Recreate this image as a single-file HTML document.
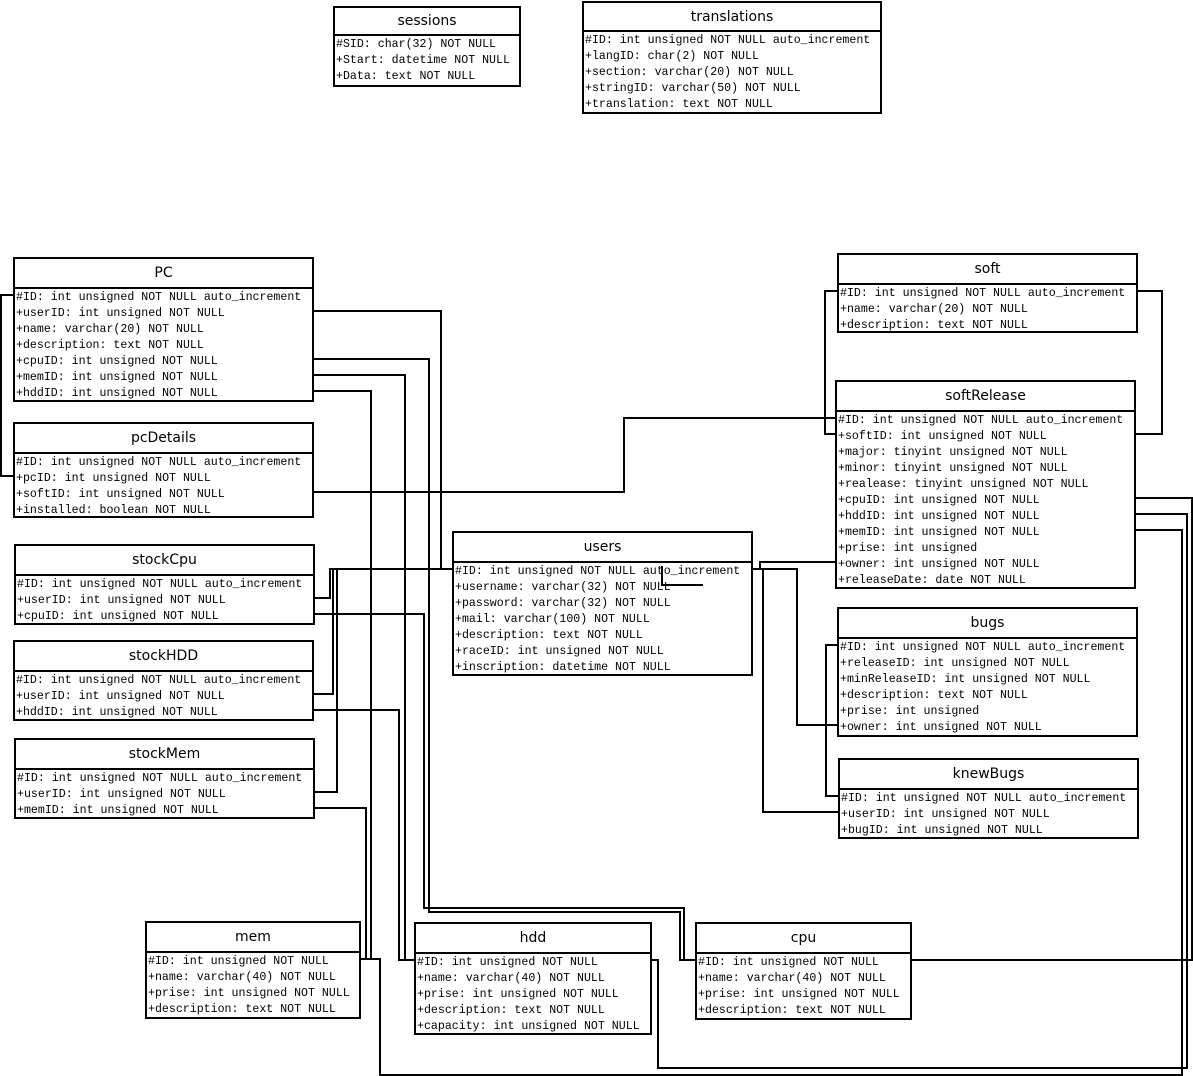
<!DOCTYPE html>
<html><head><meta charset="utf-8"><style>
body{margin:0;width:1193px;height:1076px;background:#fff;position:relative;overflow:hidden}
.t{position:absolute;border:2px solid #000;background:#fff;box-sizing:border-box}
.t .h{border-bottom:2px solid #000;font:14px "DejaVu Sans",sans-serif;text-align:center;box-sizing:border-box}
.t .r{font:11.6px "Liberation Mono",monospace;line-height:16px;padding-left:1px;white-space:pre;padding-top:1px}
svg{position:absolute;left:0;top:0}
</style></head><body>

<div class="t" style="left:333px;top:6px;width:188px;height:81px"><div class="h" style="height:28px;line-height:26px">sessions</div><div class="r">#SID: char(32) NOT NULL
+Start: datetime NOT NULL
+Data: text NOT NULL</div></div>

<div class="t" style="left:582px;top:1px;width:300px;height:113px"><div class="h" style="height:29px;line-height:28px">translations</div><div class="r">#ID: int unsigned NOT NULL auto_increment
+langID: char(2) NOT NULL
+section: varchar(20) NOT NULL
+stringID: varchar(50) NOT NULL
+translation: text NOT NULL</div></div>

<div class="t" style="left:13px;top:257px;width:301px;height:145px"><div class="h" style="height:30px;line-height:28px">PC</div><div class="r">#ID: int unsigned NOT NULL auto_increment
+userID: int unsigned NOT NULL
+name: varchar(20) NOT NULL
+description: text NOT NULL
+cpuID: int unsigned NOT NULL
+memID: int unsigned NOT NULL
+hddID: int unsigned NOT NULL</div></div>

<div class="t" style="left:13px;top:422px;width:301px;height:96px"><div class="h" style="height:30px;line-height:28px">pcDetails</div><div class="r">#ID: int unsigned NOT NULL auto_increment
+pcID: int unsigned NOT NULL
+softID: int unsigned NOT NULL
+installed: boolean NOT NULL</div></div>

<div class="t" style="left:14px;top:544px;width:301px;height:81px"><div class="h" style="height:30px;line-height:28px">stockCpu</div><div class="r">#ID: int unsigned NOT NULL auto_increment
+userID: int unsigned NOT NULL
+cpuID: int unsigned NOT NULL</div></div>

<div class="t" style="left:13px;top:640px;width:301px;height:81px"><div class="h" style="height:30px;line-height:28px">stockHDD</div><div class="r">#ID: int unsigned NOT NULL auto_increment
+userID: int unsigned NOT NULL
+hddID: int unsigned NOT NULL</div></div>

<div class="t" style="left:14px;top:738px;width:301px;height:81px"><div class="h" style="height:30px;line-height:28px">stockMem</div><div class="r">#ID: int unsigned NOT NULL auto_increment
+userID: int unsigned NOT NULL
+memID: int unsigned NOT NULL</div></div>

<div class="t" style="left:452px;top:531px;width:301px;height:145px"><div class="h" style="height:30px;line-height:28px">users</div><div class="r">#ID: int unsigned NOT NULL auto_increment
+username: varchar(32) NOT NULL
+password: varchar(32) NOT NULL
+mail: varchar(100) NOT NULL
+description: text NOT NULL
+raceID: int unsigned NOT NULL
+inscription: datetime NOT NULL</div></div>

<div class="t" style="left:837px;top:253px;width:301px;height:80px"><div class="h" style="height:30px;line-height:28px">soft</div><div class="r">#ID: int unsigned NOT NULL auto_increment
+name: varchar(20) NOT NULL
+description: text NOT NULL</div></div>

<div class="t" style="left:835px;top:380px;width:301px;height:209px"><div class="h" style="height:30px;line-height:28px">softRelease</div><div class="r">#ID: int unsigned NOT NULL auto_increment
+softID: int unsigned NOT NULL
+major: tinyint unsigned NOT NULL
+minor: tinyint unsigned NOT NULL
+realease: tinyint unsigned NOT NULL
+cpuID: int unsigned NOT NULL
+hddID: int unsigned NOT NULL
+memID: int unsigned NOT NULL
+prise: int unsigned
+owner: int unsigned NOT NULL
+releaseDate: date NOT NULL</div></div>

<div class="t" style="left:837px;top:607px;width:301px;height:130px"><div class="h" style="height:30px;line-height:28px">bugs</div><div class="r">#ID: int unsigned NOT NULL auto_increment
+releaseID: int unsigned NOT NULL
+minReleaseID: int unsigned NOT NULL
+description: text NOT NULL
+prise: int unsigned
+owner: int unsigned NOT NULL</div></div>

<div class="t" style="left:838px;top:758px;width:301px;height:81px"><div class="h" style="height:30px;line-height:28px">knewBugs</div><div class="r">#ID: int unsigned NOT NULL auto_increment
+userID: int unsigned NOT NULL
+bugID: int unsigned NOT NULL</div></div>

<div class="t" style="left:145px;top:921px;width:216px;height:98px"><div class="h" style="height:30px;line-height:28px">mem</div><div class="r">#ID: int unsigned NOT NULL
+name: varchar(40) NOT NULL
+prise: int unsigned NOT NULL
+description: text NOT NULL</div></div>

<div class="t" style="left:414px;top:922px;width:238px;height:113px"><div class="h" style="height:30px;line-height:28px">hdd</div><div class="r">#ID: int unsigned NOT NULL
+name: varchar(40) NOT NULL
+prise: int unsigned NOT NULL
+description: text NOT NULL
+capacity: int unsigned NOT NULL</div></div>

<div class="t" style="left:695px;top:922px;width:217px;height:98px"><div class="h" style="height:30px;line-height:28px">cpu</div><div class="r">#ID: int unsigned NOT NULL
+name: varchar(40) NOT NULL
+prise: int unsigned NOT NULL
+description: text NOT NULL</div></div>

<svg width="1193" height="1076" fill="none" stroke="#000" stroke-width="2">
<polyline points="14,295 1,295 1,476 14,476"/>
<polyline points="313,311 441,311 441,569 453,569"/>
<polyline points="313,359 429,359 429,912 680,912 680,960 695,960"/>
<polyline points="313,375 405,375 405,960 414,960"/>
<polyline points="313,391 371,391 371,959 360,959"/>
<polyline points="313,492 624,492 624,418 835,418"/>
<polyline points="314,598 330,598 330,569 453,569"/>
<polyline points="314,614 424,614 424,908 684,908 684,960"/>
<polyline points="313,694 333,694 333,569"/>
<polyline points="313,710 399,710 399,960 414,960"/>
<polyline points="314,792 337,792 337,569"/>
<polyline points="314,808 366,808 366,959 360,959"/>
<polyline points="837,291 825,291 825,434 835,434"/>
<polyline points="1137,291 1162,291 1162,434 1135,434"/>
<polyline points="835,562 760,562 760,569 752,569"/>
<polyline points="752,569 797,569 797,725 838,725"/>
<polyline points="763,569 763,812 838,812"/>
<polyline points="838,645 826,645 826,796 838,796"/>
<polyline points="1135,498 1192,498 1192,960 911,960"/>
<polyline points="1135,514 1187,514 1187,1068 658,1068 658,960 651,960"/>
<polyline points="1135,530 1182,530 1182,1075 380,1075 380,959 360,959"/>
<polyline points="662,566 662,585 703,585"/>
</svg>
</body></html>
